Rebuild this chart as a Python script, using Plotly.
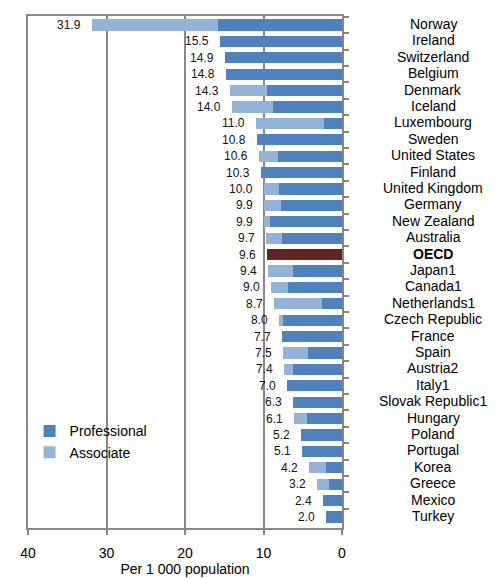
import plotly.graph_objects as go

countries = ["Norway", "Ireland", "Switzerland", "Belgium", "Denmark", "Iceland", "Luxembourg",
             "Sweden", "United States", "Finland", "United Kingdom", "Germany", "New Zealand",
             "Australia", "OECD", "Japan1", "Canada1", "Netherlands1", "Czech Republic", "France",
             "Spain", "Austria2", "Italy1", "Slovak Republic1", "Hungary", "Poland", "Portugal",
             "Korea", "Greece", "Mexico", "Turkey"]
totals = [31.9, 15.5, 14.9, 14.8, 14.3, 14.0, 11.0, 10.8, 10.6, 10.3, 10.0, 9.9, 9.9, 9.7, 9.6,
          9.4, 9.0, 8.7, 8.0, 7.7, 7.5, 7.4, 7.0, 6.3, 6.1, 5.2, 5.1, 4.2, 3.2, 2.4, 2.0]
professional = [15.8, 15.5, 14.9, 14.8, 9.5, 8.75, 2.3, 10.8, 8.2, 10.3, 8.0, 7.8, 9.2, 7.6, 9.6,
                6.3, 6.9, 2.5, 7.5, 7.7, 4.3, 6.2, 7.0, 6.3, 4.5, 5.2, 5.1, 2.1, 1.6, 2.4, 2.0]
associate = [round(t - p, 2) for t, p in zip(totals, professional)]
x_ticks = [40, 30, 20, 10, 0]

PROF = "#4F81BD"
ASSOC = "#95B3D7"
OECD_COL = "#632523"
prof_colors = [OECD_COL if c == "OECD" else PROF for c in countries]

fig = go.Figure()
fig.add_trace(go.Bar(y=countries, x=professional, orientation="h", name="Professional",
                     legendgroup="p", marker=dict(color=prof_colors, line=dict(width=0))))
fig.add_trace(go.Bar(y=countries, x=associate, orientation="h", name="Associate",
                     legendgroup="a", marker=dict(color=ASSOC, line=dict(width=0))))

# total labels
for c, t in zip(countries, totals):
    fig.add_annotation(x=t, y=c, xref="x", yref="y", text=f"{t:.1f}", showarrow=False,
                       xanchor="right", xshift=-9, font=dict(size=12, color="#111111"))

# category labels on the right, centered
for c in countries:
    txt = "<b>OECD</b>" if c == "OECD" else c
    fig.add_annotation(x=1.29, y=c, xref="paper", yref="y", text=txt, showarrow=False,
                       xanchor="center", yshift=1, font=dict(size=14, color="#000000"))

fig.update_layout(
    width=491, height=570,
    margin=dict(l=20, r=157, t=8, b=50, autoexpand=False),
    barmode="stack", bargap=0.32,
    paper_bgcolor="white", plot_bgcolor="white",
    font=dict(family="Liberation Sans, Arial, sans-serif", color="#000000"),
    legend=dict(x=0.005, y=0.22, xanchor="left", yanchor="top", bgcolor="rgba(0,0,0,0)",
                font=dict(size=14), itemwidth=30, tracegroupgap=3, traceorder="normal"),
    xaxis=dict(range=[40, 0], tickvals=x_ticks, ticktext=[str(v) for v in x_ticks],
               automargin=False,
               showgrid=True, gridcolor="#878787", gridwidth=2,
               showline=True, linecolor="#878787", linewidth=2, mirror=True,
               ticks="outside", tickcolor="#878787", tickwidth=2, ticklen=5,
               ticklabelstandoff=6,
               tickfont=dict(size=14), zeroline=False,
               title=dict(text="Per 1 000 population", font=dict(size=14), standoff=0)),
    yaxis=dict(autorange="reversed", side="right", showticklabels=False, automargin=False,
               showline=True, linecolor="#878787", linewidth=2, mirror=True,
               ticks="outside", tickson="boundaries", tickcolor="#878787", tickwidth=2,
               ticklen=5, showgrid=False),
)

fig.write_html("out.html")
